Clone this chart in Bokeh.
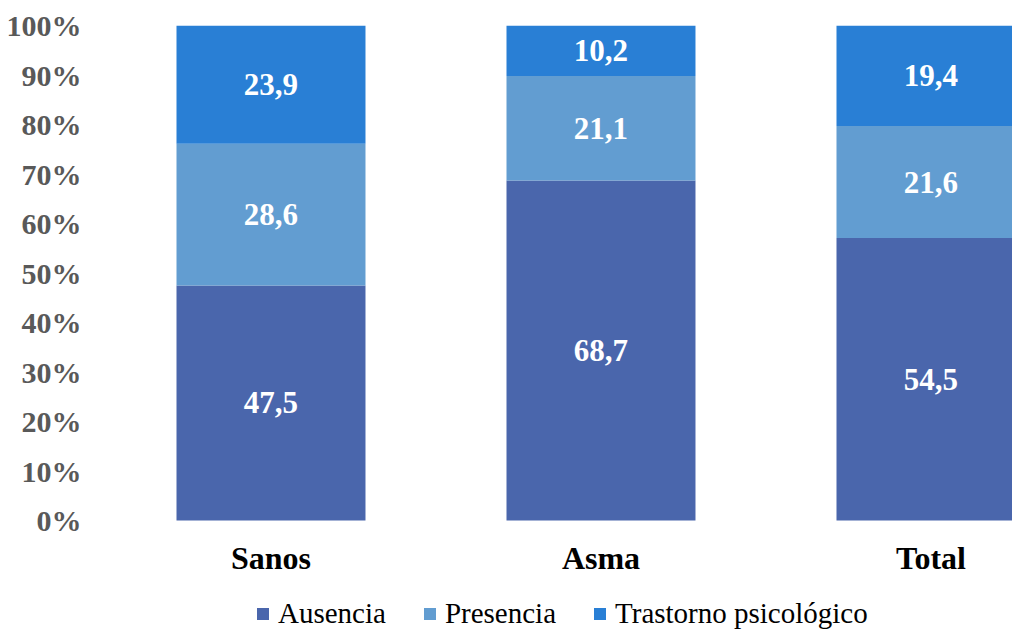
from bokeh.plotting import figure
from bokeh.models import ColumnDataSource, Legend, LegendItem, FixedTicker, Range1d
from bokeh.core.properties import value
from bokeh.embed import file_html
from bokeh.resources import INLINE

# Distribution by group (percent values as reported)
groups = ["Sanos", "Asma", "Total"]
series = ["Ausencia", "Presencia", "Trastorno psicológico"]
ausencia = [47.5, 68.7, 54.5]
presencia = [28.6, 21.1, 21.6]
trastorno = [23.9, 10.2, 19.4]
y_ticks = [0, 10, 20, 30, 40, 50, 60, 70, 80, 90, 100]

colors = ["#4A66AC", "#629DD1", "#297FD5"]
FONT = "Liberation Serif"

values = [ausencia, presencia, trastorno]
xs = list(range(len(groups)))
totals = [sum(v[i] for v in values) for i in xs]

# the plot frame runs down to the page bottom so that group names and the
# legend can sit beneath the 0% line
p = figure(width=1012, height=630, output_backend="svg", toolbar_location=None,
           x_range=Range1d(-0.5318, 2.2470), y_range=Range1d(-22.22, 100),
           min_border_left=95, min_border_right=0, min_border_top=25,
           min_border_bottom=0)
p.outline_line_color = None
p.xgrid.grid_line_color = None
p.ygrid.grid_line_color = None
p.background_fill_color = "white"
p.xaxis.visible = False

bar_w = 0.5727
items = []
base = [0.0] * len(groups)
for name, vals, col in zip(series, values, colors):
    # 100% stacked: each segment is its share of the group's total
    share = [100.0 * v / t for v, t in zip(vals, totals)]
    top = [b + s for b, s in zip(base, share)]
    mid = [b + s / 2 for b, s in zip(base, share)]
    src = ColumnDataSource(dict(x=xs, bottom=base, top=top, mid=mid,
                                label=[f"{v:.1f}".replace(".", ",") for v in vals]))
    r = p.vbar(x="x", width=bar_w, bottom="bottom", top="top", source=src,
               fill_color=col, line_color=None)
    p.text(x="x", y="mid", text="label", source=src, text_align="center",
           text_baseline="middle", text_color="white", text_font=value(FONT),
           text_font_style="bold", text_font_size="31px")
    items.append(LegendItem(label=name, renderers=[r]))
    base = top

# group names under the bars
name_src = ColumnDataSource(dict(x=xs, y=[-7.5] * len(xs), name=groups))
p.text(x="x", y="y", text="name", source=name_src, text_align="center",
       text_baseline="middle", text_color="black", text_font=value(FONT),
       text_font_style="bold", text_font_size="32px")

# y axis
p.yaxis.ticker = FixedTicker(ticks=y_ticks)
p.yaxis.major_label_overrides = {t: f"{t}%" for t in y_ticks}
p.yaxis.axis_line_color = None
p.yaxis.major_tick_line_color = None
p.yaxis.minor_tick_line_color = None
p.yaxis.major_tick_in = 0
p.yaxis.major_tick_out = 0
p.yaxis.major_label_text_font = FONT
p.yaxis.major_label_text_font_style = "bold"
p.yaxis.major_label_text_font_size = "30px"
p.yaxis.major_label_text_color = "#595959"
p.yaxis.major_label_standoff = 14

legend = Legend(items=items, orientation="horizontal", location=(160, 0),
                label_text_font=FONT, label_text_font_size="29px",
                label_text_color="black", glyph_width=15, glyph_height=15,
                label_standoff=8, spacing=36, padding=0, margin=0,
                border_line_alpha=0, background_fill_alpha=0)
p.add_layout(legend)

open("out.html", "w").write(file_html(p, INLINE))
